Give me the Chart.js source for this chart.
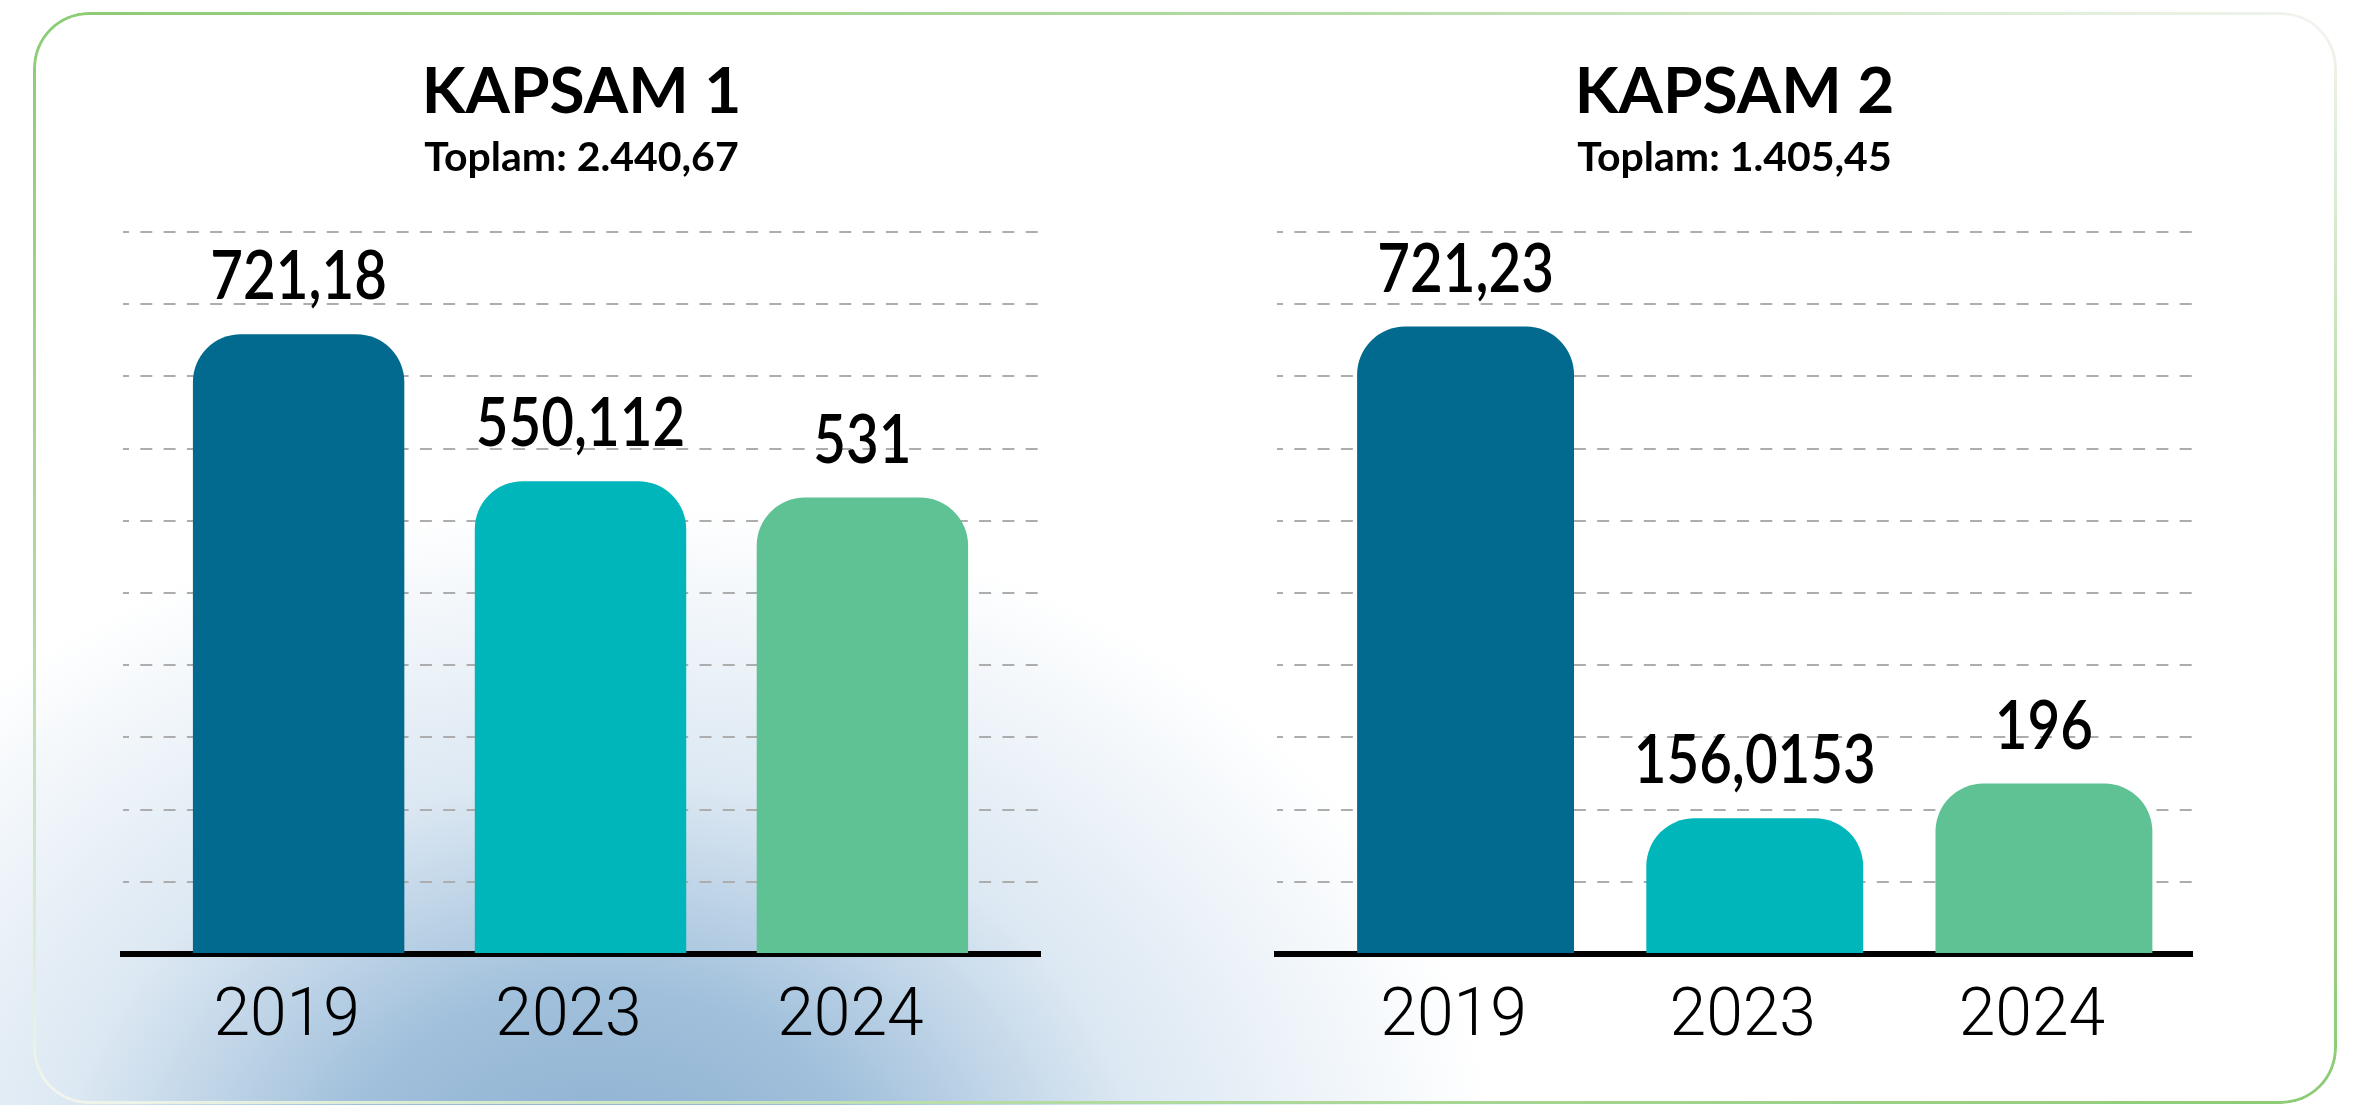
<!DOCTYPE html>
<html>
<head>
<meta charset="utf-8">
<script src="https://cdn.jsdelivr.net/npm/chart.js@4.4.1/dist/chart.umd.min.js"></script>
<style>
html,body{margin:0;padding:0;width:2357px;height:1105px;overflow:hidden;background:#fff;}
#bg{position:absolute;left:0;top:0;width:2357px;height:1105px;
  background:radial-gradient(ellipse 900px 700px at 600px 1200px, rgba(138,174,207,1) 0%, rgba(152,186,216,0.92) 30%, rgba(196,216,234,0.6) 60%, rgba(255,255,255,0) 100%), #fff;}
#card{position:absolute;left:33px;top:12px;width:2304px;height:1092px;box-sizing:border-box;
  border:3px solid transparent;border-radius:56px;
  background:linear-gradient(to bottom right,#8ccb74 0%,#b3dba3 28%,#f2f5ef 50%,#b3dba3 72%,#8ccb74 100%) border-box;
  -webkit-mask:linear-gradient(#000 0 0) padding-box,linear-gradient(#000 0 0);
  -webkit-mask-composite:xor;mask-composite:exclude;}
canvas{position:absolute;top:0;}
#c1{left:0px;}
#c2{left:1163px;}
</style>
</head>
<body>
<div id="bg"></div>
<div id="card"></div>
<canvas id="c1" width="1163" height="1105"></canvas>
<canvas id="c2" width="1143" height="1105"></canvas>
<script>
// ---- data ----
const categories = ['2019', '2023', '2024'];
const scope1Values = [721.18, 550.112, 531];
const scope2Values = [721.23, 156.0153, 196];
const barColors = ['#026a8f', '#00b6bb', '#5fc294'];
const chartTitles = ['KAPSAM 1', 'KAPSAM 2'];
const chartSubtitles = ['Toplam: 2.440,67', 'Toplam: 1.405,45'];
const yMaxes = [840, 830];

function fmt(v) { return String(v).replace('.', ','); }

const valueLabels = {
  id: 'valueLabels',
  afterDatasetsDraw(chart) {
    const ctx = chart.ctx;
    const meta = chart.getDatasetMeta(0);
    const ds = chart.data.datasets[0];
    ctx.save();
    ctx.font = "600 68px Lato, sans-serif";
    ctx.fillStyle = '#000';
    ctx.textAlign = 'center';
    ctx.textBaseline = 'alphabetic';
    meta.data.forEach((bar, i) => {
      ctx.save();
      ctx.translate(bar.x, bar.y - 35);
      ctx.scale(0.83, 1);
      ctx.fillText(fmt(ds.data[i].y), 0, 0);
      ctx.restore();
    });
    ctx.restore();
  }
};

function makeChart(id, values, title, subtitle, yMax, xMin, xMax, padL, padR) {
  return new Chart(document.getElementById(id), {
    type: 'bar',
    data: {
      datasets: [{
        data: values.map((v, i) => ({ x: i, y: v })),
        backgroundColor: barColors,
        borderRadius: { topLeft: 48, topRight: 48, bottomLeft: 0, bottomRight: 0 },
        borderSkipped: 'bottom',
        categoryPercentage: 1,
        barPercentage: 0.75,
        inflateAmount: 0
      }]
    },
    options: {
      responsive: false,
      animation: false,
      devicePixelRatio: 1,
      layout: { padding: { left: padL, right: padR, top: 0, bottom: 31 } },
      plugins: {
        legend: { display: false },
        tooltip: { enabled: false },
        title: {
          display: true, text: title, color: '#000',
          font: { family: 'Lato', size: 64, weight: 'bold', lineHeight: 1 },
          padding: { top: 60, bottom: 13.5 }
        },
        subtitle: {
          display: true, text: subtitle, color: '#000',
          font: { family: 'Lato', size: 41, weight: 'bold', lineHeight: 1 },
          padding: { top: 0, bottom: 53.5 }
        }
      },
      scales: {
        x: {
          type: 'linear', min: xMin, max: xMax, z: 1,
          offset: false, bounds: 'data',
          afterBuildTicks: s => { s.ticks = categories.map((_, i) => ({ value: i })); },
          afterFit: s => { s.height = 120; },
          grid: { display: true, offset: false, drawOnChartArea: false, drawTicks: false, color: 'rgba(0,0,0,0)' },
          border: { display: true, color: '#000', width: 6 },
          ticks: {
            callback: v => categories[v],
            font: { family: 'Roboto', size: 66, weight: 300 },
            color: '#000', padding: 25, labelOffset: -12,
            maxRotation: 0, autoSkip: false
          }
        },
        y: {
          min: 0, max: yMax,
          afterFit: s => { s.width = 0; },
          ticks: { display: false, stepSize: yMax / 10 },
          grid: {
            color: c => (c.tick && c.tick.value === 0) ? 'rgba(0,0,0,0)' : '#adadad',
            lineWidth: 2, drawTicks: false
          },
          border: { display: false, dash: [12, 11.3], dashOffset: 6 }
        }
      }
    },
    plugins: [valueLabels]
  });
}

makeChart('c1', scope1Values, chartTitles[0], chartSubtitles[0], yMaxes[0], -0.623, 2.630, 123, 123);
makeChart('c2', scope2Values, chartTitles[1], chartSubtitles[1], yMaxes[1], -0.652, 2.512, 114, 114);
</script>
</body>
</html>
